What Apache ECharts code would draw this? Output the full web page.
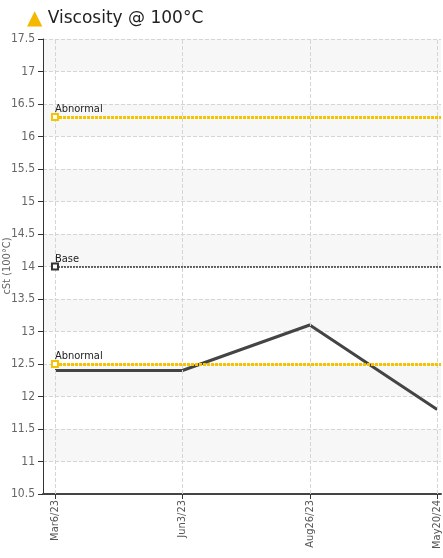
<!DOCTYPE html><html><head><meta charset="utf-8"><script src="https://cdn.jsdelivr.net/npm/echarts@6/dist/echarts.min.js"></script></head><body style="margin:0"><div id="c" style="width:443px;height:558px"></div><script>
const categories=['Mar6/23','Jun3/23','Aug26/23','May20/24'];
const values=[12.4,12.4,13.1,11.8];
const abnormalHigh=16.3, base=14.0, abnormalLow=12.5;
const yName='cSt (100°C)';
const c=echarts.init(document.getElementById('c'));
const lbl={show:true,position:'insideStartTop',distance:[0,2],color:'#222',fontSize:11,fontFamily:'DejaVu Sans Condensed'};
const idx=categories.map((_,i)=>i);
const ml=(name,y,ls)=>[{name,coord:[0,y],lineStyle:ls,label:Object.assign({},lbl,{formatter:name})},{coord:[3.03,y]}];
c.setOption({
 title:{text:'{t|▲} Viscosity @ 100°C',left:22,top:4,textStyle:{fontSize:17,fontWeight:'normal',color:'#222',fontFamily:'DejaVu Sans',rich:{t:{color:'#f5b800',fontSize:20}}}},
 graphic:[{type:'text',x:2,y:266,rotation:Math.PI/2,style:{text:yName,fill:'#666',font:'11px "DejaVu Sans Condensed"',align:'center',verticalAlign:'top'}}],
 grid:{left:43,right:2,top:39,bottom:64,outerBoundsMode:'none',containLabel:false},
 xAxis:{type:'value',min:-0.094,max:3.03,axisLine:{onZero:false,lineStyle:{color:'#444',width:2}},
  axisTick:{show:true,customValues:idx,lineStyle:{color:'#333'}},
  axisLabel:{customValues:idx,rotate:90,color:'#555',fontSize:11,fontFamily:'DejaVu Sans Condensed',margin:6,formatter:v=>categories[Math.round(v)]},
  splitLine:{show:false}},
 yAxis:{type:'value',min:10.5,max:17.5,interval:0.5,
  axisLine:{show:true,onZero:false,lineStyle:{color:'#333'}},axisTick:{show:true,lineStyle:{color:'#333'}},axisLabel:{color:'#666',fontSize:12,fontFamily:'DejaVu Sans Condensed',formatter:v=>String(v)},
  splitLine:{lineStyle:{type:'dashed',color:'#d5d5d5'}},splitArea:{show:true,areaStyle:{color:['#ffffff','#f7f7f7']}}},
 series:[
  {type:'line',data:[],z:1,markLine:{silent:true,symbol:['none','none'],label:{show:false},lineStyle:{type:'dashed',color:'#d5d5d5',width:1},data:idx.map(i=>({xAxis:i}))}},
  {type:'line',data:idx.map(i=>[i,values[i]]),symbol:'none',lineStyle:{color:'#444',width:3},z:3,
   markLine:{silent:true,symbol:['emptyRect','none'],symbolSize:6,itemStyle:{color:'#333'},
    data:[ml('Abnormal',abnormalHigh,{color:'#f5c400',type:[3,1],width:3}),
     ml('Base',base,{color:'#333',type:[2,1],width:1.5}),
     ml('Abnormal',abnormalLow,{color:'#f5c400',type:[3,1],width:3})]}}
 ]
});
</script></body></html>
